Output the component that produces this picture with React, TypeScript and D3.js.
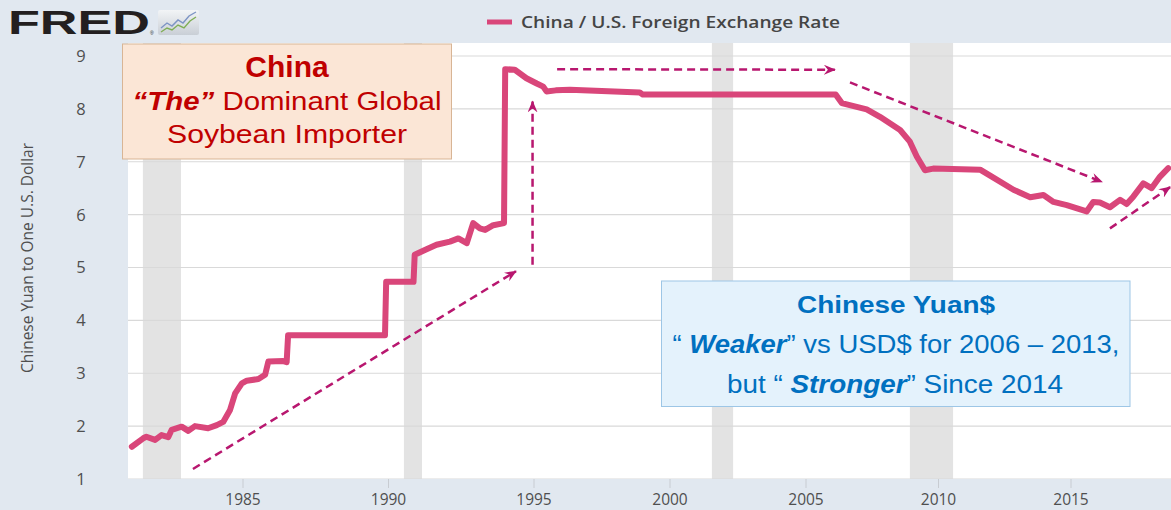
import React from 'react';
import * as d3 from 'd3';

// China / U.S. foreign exchange rate, yuan per dollar
const rateYears = [
  1981.18, 1981.57, 1981.68, 1981.98, 1982.2, 1982.43, 1982.55, 1982.89, 1983.12, 1983.35,
  1983.8, 1984.1, 1984.32, 1984.55, 1984.73, 1984.96, 1985.13, 1985.53, 1985.76, 1985.87,
  1986.38, 1986.5, 1986.55, 1989.88, 1989.92, 1990.86, 1990.9, 1991.25, 1991.65, 1992.11,
  1992.4, 1992.69, 1992.91, 1993.14, 1993.32, 1993.6, 1993.97, 1994.01, 1994.34, 1994.74,
  1995.1, 1995.34, 1995.46, 1995.8, 1996.32, 1998.89, 1999.0, 2006.12, 2006.35, 2007.29,
  2007.79, 2008.55, 2008.92, 2009.18, 2009.49, 2009.8, 2011.57, 2012.01, 2012.83, 2013.46,
  2013.96, 2014.34, 2014.84, 2015.59, 2015.84, 2016.09, 2016.47, 2016.85, 2017.1, 2017.35,
  2017.73, 2018.04, 2018.36, 2018.67,
];
const rateValues = [
  1.61, 1.77, 1.8, 1.74, 1.83, 1.79, 1.93, 1.99, 1.91, 2.0,
  1.96, 2.02, 2.08, 2.3, 2.62, 2.81, 2.86, 2.89, 2.97, 3.22,
  3.23, 3.21, 3.72, 3.72, 4.73, 4.73, 5.24, 5.33, 5.43, 5.49,
  5.55, 5.46, 5.84, 5.74, 5.71, 5.8, 5.84, 8.75, 8.74, 8.58,
  8.48, 8.42, 8.33, 8.35, 8.36, 8.31, 8.27, 8.27, 8.11, 7.99,
  7.85, 7.6, 7.38, 7.1, 6.84, 6.87, 6.85, 6.72, 6.47, 6.33,
  6.37, 6.24, 6.18, 6.06, 6.24, 6.23, 6.14, 6.28, 6.2, 6.34,
  6.59, 6.5, 6.72, 6.88,
];

const recessionStarts = [1981.56, 1990.53, 2001.54, 2008.92];
const recessionEnds = [1982.87, 1991.15, 2002.32, 2010.55];

const xTicks = [1985, 1990, 1995, 2000, 2005, 2010, 2015];
const yTicks = [1, 2, 3, 4, 5, 6, 7, 8, 9];

// dashed trend arrows, in chart units (year, yuan)
const arrowFromYears = [1983.28, 1994.95, 1995.85, 2006.66, 2016.47];
const arrowFromValues = [1.19, 5.05, 8.75, 8.5, 5.74];
const arrowToYears = [1994.38, 1994.95, 2006.09, 2016.17, 2018.74];
const arrowToValues = [4.93, 8.14, 8.74, 6.62, 6.52];

const W = 1171;
const H = 510;
const plot = { left: 128, right: 1171, top: 43, bottom: 479 };

const BG = '#e1e8f0';
const LINE = '#d9467a';
const ARROW = '#b8176f';
const AXIS_TEXT = '#4f4f4f';

export default function App() {
  // the tick spacing in the picture is not even, so the axis is piecewise
  const x = d3.scaleLinear().domain([1985, 1995, 2005, 2015]).range([243, 534, 806, 1071]);
  const y = d3.scaleLinear().domain([1, 9]).range([479, 56]);

  const points: [number, number][] = rateYears.map((yr, i) => [yr, rateValues[i]]);
  const line = d3
    .line<[number, number]>()
    .x((d) => x(d[0]))
    .y((d) => y(d[1]));

  return (
    <svg width={W} height={H} style={{ position: 'absolute', left: 0, top: 0 }}>
      <defs>
        <marker id="head" viewBox="0 0 12 10" refX="11" refY="5" markerWidth="12" markerHeight="10"
          markerUnits="userSpaceOnUse" orient="auto">
          <path d="M0,0 L12,5 L0,10 L4,5 Z" fill={ARROW} />
        </marker>
        <clipPath id="plotClip">
          <rect x={plot.left} y={plot.top} width={plot.right - plot.left} height={plot.bottom - plot.top} />
        </clipPath>
        <linearGradient id="logoBg" x1="0" y1="0" x2="0" y2="1">
          <stop offset="0" stopColor="#f2f4f6" />
          <stop offset="1" stopColor="#c9cfd6" />
        </linearGradient>
      </defs>

      <rect x={0} y={0} width={W} height={H} fill={BG} />

      {/* FRED logo */}
      <text x={8} y={34} fontFamily="Liberation Sans, Arial, sans-serif" fontWeight={900} fontSize={34}
        fill="#231f20" textLength={142} lengthAdjust="spacingAndGlyphs">FRED</text>
      <text x={150} y={35} fontFamily="Liberation Sans, Arial, sans-serif" fontSize={5} fill="#231f20">®</text>
      <rect x={158} y={10} width={41} height={25} rx={2} fill="url(#logoBg)" />
      <polyline points="161,28 167,23 172,26 178,20 183,23 189,16 196,12" fill="none" stroke="#7d94c4" strokeWidth={1.4} />
      <polyline points="161,32 167,28 172,30 178,25 184,28 190,21 196,17" fill="none" stroke="#7fae55" strokeWidth={1.4} />

      {/* legend */}
      <rect x={487} y={19.5} width={25} height={5} fill={LINE} />
      <text x={521} y={28} fontFamily="Open Sans, sans-serif" fontSize={17} fontWeight={600} fill="#454545"
        textLength={319} lengthAdjust="spacingAndGlyphs">China / U.S. Foreign Exchange Rate</text>

      {/* plot area */}
      <rect x={plot.left} y={plot.top} width={plot.right - plot.left} height={plot.bottom - plot.top} fill="#fff" />
      <g clipPath="url(#plotClip)">
        {recessionStarts.map((s, i) => (
          <rect key={i} x={x(s)} y={plot.top} width={x(recessionEnds[i]) - x(s)}
            height={plot.bottom - plot.top} fill="#e3e3e3" />
        ))}
        {yTicks.map((t) => (
          <line key={t} x1={plot.left} x2={plot.right} y1={y(t)} y2={y(t)} stroke="#d9d9d9" strokeWidth={1.2} />
        ))}
        <path d={line(points) ?? ''} fill="none" stroke={LINE} strokeWidth={6} strokeLinejoin="round" strokeLinecap="round" />
      </g>

      {/* axes */}
      {yTicks.map((t) => (
        <text key={t} x={81} y={y(t)} dy="0.36em" textAnchor="middle" fontFamily="Open Sans, sans-serif"
          fontSize={16.5} fill={AXIS_TEXT}>{t}</text>
      ))}
      {xTicks.map((t) => (
        <g key={t}>
          <line x1={x(t)} x2={x(t)} y1={plot.bottom} y2={plot.bottom + 9} stroke="#c8ccd2" strokeWidth={1} />
          <text x={x(t)} y={505} textAnchor="middle" fontFamily="Open Sans, sans-serif" fontSize={15.5}
            fill={AXIS_TEXT}>{t}</text>
        </g>
      ))}
      <text transform="translate(33,258) rotate(-90)" textAnchor="middle" fontFamily="Open Sans, sans-serif"
        fontSize={17} fill={AXIS_TEXT} textLength={230} lengthAdjust="spacingAndGlyphs">
        Chinese Yuan to One U.S. Dollar
      </text>

      {/* trend arrows */}
      {arrowFromYears.map((fy, i) => (
        <line key={i} x1={x(fy)} y1={y(arrowFromValues[i])} x2={x(arrowToYears[i])} y2={y(arrowToValues[i])}
          stroke={ARROW} strokeWidth={2.5} strokeDasharray="8 5" markerEnd="url(#head)" />
      ))}

      {/* annotation: China */}
      <rect x={122.5} y={44} width={329} height={115} fill="#fbe6d6" stroke="#d8b595" strokeWidth={1} />
      <g fontFamily="Liberation Sans, Arial, sans-serif" fill="#c00000" textAnchor="middle">
        <text x={287} y={77} fontSize={30} fontWeight="bold">China</text>
        <text x={287} y={110} fontSize={26} textLength={309} lengthAdjust="spacingAndGlyphs">
          <tspan fontWeight="bold" fontStyle="italic">“The”</tspan> Dominant Global
        </text>
        <text x={287} y={143} fontSize={26} textLength={240} lengthAdjust="spacingAndGlyphs">Soybean Importer</text>
      </g>

      {/* annotation: Yuan */}
      <rect x={661.5} y={281} width={468.5} height={125.5} fill="#e4f2fc" stroke="#9dc6e6" strokeWidth={1} />
      <g fontFamily="Liberation Sans, Arial, sans-serif" fill="#0070c0" textAnchor="middle">
        <text x={896} y={313} fontSize={24} fontWeight="bold" textLength={198} lengthAdjust="spacingAndGlyphs">Chinese Yuan$</text>
        <text x={896} y={353} fontSize={25} textLength={447} lengthAdjust="spacingAndGlyphs">
          “ <tspan fontWeight="bold" fontStyle="italic">Weaker</tspan>”  vs USD$ for 2006 – 2013,
        </text>
        <text x={895} y={393} fontSize={25} textLength={336} lengthAdjust="spacingAndGlyphs">
          but “ <tspan fontWeight="bold" fontStyle="italic">Stronger</tspan>”  Since 2014
        </text>
      </g>
    </svg>
  );
}
